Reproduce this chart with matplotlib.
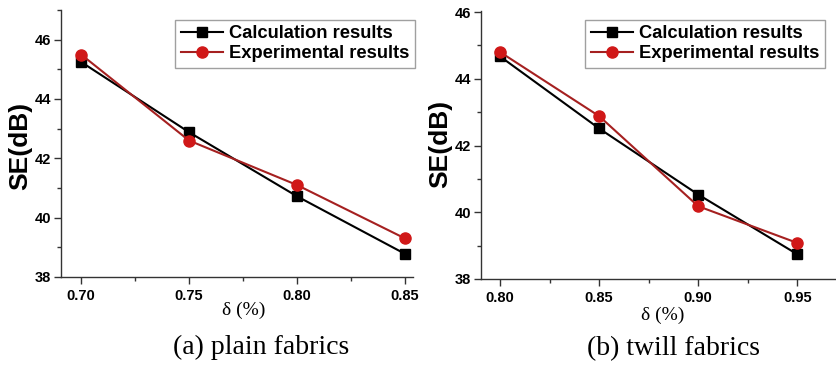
import matplotlib
matplotlib.use("Agg")
import matplotlib.pyplot as plt
from matplotlib.ticker import MultipleLocator

# Data
delta_plain = [0.70, 0.75, 0.80, 0.85]
calc_plain = [45.25, 42.88, 40.72, 38.78]
exp_plain = [45.50, 42.60, 41.10, 39.30]

delta_twill = [0.80, 0.85, 0.90, 0.95]
calc_twill = [44.67, 42.51, 40.53, 38.74]
exp_twill = [44.80, 42.88, 40.18, 39.08]

xticks_plain = [0.70, 0.75, 0.80, 0.85]
xticks_twill = [0.80, 0.85, 0.90, 0.95]
yticks = [38, 40, 42, 44, 46]
series_labels = ["Calculation results", "Experimental results"]
captions = ["(a) plain fabrics", "(b) twill fabrics"]

W, H = 837, 368
fig = plt.figure(figsize=(W / 100, H / 100), dpi=100)

sans = "Liberation Sans"
serif = "Liberation Serif"
red = "#d01818"
line_red = "#a52020"


def px(x0, y0, x1, y1):
    return [x0 / W, 1 - y1 / H, (x1 - x0) / W, (y1 - y0) / H]


def style(ax, xticks, xlim, ylim, xlab_pos, ylab_pos):
    ax.set_xlim(*xlim)
    ax.set_ylim(*ylim)
    ax.set_xticks(xticks)
    ax.set_xticklabels([f"{v:.2f}" for v in xticks])
    ax.set_yticks(yticks)
    ax.xaxis.set_minor_locator(MultipleLocator(0.025))
    ax.yaxis.set_minor_locator(MultipleLocator(1))
    for s in ["top", "right"]:
        ax.spines[s].set_visible(False)
    for s in ["left", "bottom"]:
        ax.spines[s].set_color("#333333")
        ax.spines[s].set_linewidth(1.0)
    ax.tick_params(which="major", direction="out", length=5, width=1, color="#333333")
    ax.tick_params(axis="y", which="major", pad=2)
    ax.tick_params(axis="x", which="major", pad=4)
    ax.tick_params(which="minor", direction="out", length=3, width=1, color="#333333")
    for lab in ax.get_xticklabels() + ax.get_yticklabels():
        lab.set_fontfamily(sans)
        lab.set_fontweight("bold")
        lab.set_fontsize(10.5)
    ax.set_ylabel("SE(dB)", fontfamily=sans, fontweight="bold", fontsize=19)
    ax.yaxis.set_label_coords(*ylab_pos)
    ax.yaxis.label.set_va("center")
    ax.set_xlabel("δ (%)", fontfamily=serif, fontsize=14)
    ax.xaxis.set_label_coords(*xlab_pos)
    ax.xaxis.label.set_va("top")


def plot_series(ax, x, c, e, anchor):
    ax.plot(x, c, color="black", lw=1.5, marker="s", ms=7, mfc="black", mec="black",
            label=series_labels[0], zorder=3)
    ax.plot(x, e, color=line_red, lw=1.5, marker="o", ms=8, mfc=red, mec=red,
            label=series_labels[1], zorder=4)
    leg = ax.legend(loc="upper right", bbox_to_anchor=anchor, bbox_transform=fig.transFigure,
                    prop={"family": sans, "weight": "bold", "size": 13.2},
                    frameon=True, fancybox=False, handlelength=2.3, handletextpad=0.35,
                    borderpad=0.3, labelspacing=0.15, borderaxespad=0)
    leg.get_frame().set_edgecolor("#888888")
    leg.get_frame().set_linewidth(1.0)


ax1 = fig.add_axes(px(61, 10, 413, 277))
plot_series(ax1, delta_plain, calc_plain, exp_plain, (415 / W, 1 - 20 / H))
style(ax1, xticks_plain, (0.6907, 0.8537), (38, 47), (0.52, -0.094), (-0.116, 0.49))

ax2 = fig.add_axes(px(481, 11, 837, 279))
plot_series(ax2, delta_twill, calc_twill, exp_twill, (825 / W, 1 - 20 / H))
style(ax2, xticks_twill, (0.7904, 0.970), (38, 46.03), (0.511, -0.104), (-0.115, 0.505))

fig.text(261 / W, 1 - 347 / H, captions[0], family=serif, fontsize=20, ha="center", va="center")
fig.text(674 / W, 1 - 349 / H, captions[1], family=serif, fontsize=20, ha="center", va="center")

fig.savefig("out.png", dpi=100)
